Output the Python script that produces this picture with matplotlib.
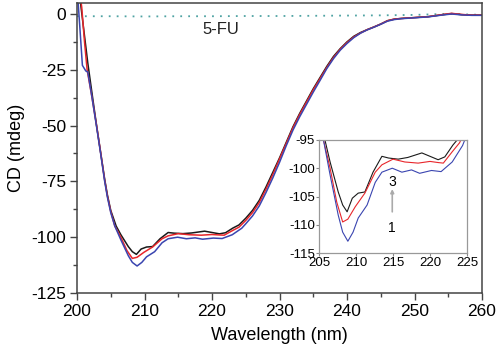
import numpy as np
import matplotlib
matplotlib.use('Agg')
import matplotlib.pyplot as plt
from matplotlib.ticker import MultipleLocator

plt.rcParams['font.family'] = ['Liberation Sans', 'DejaVu Sans']
plt.rcParams['axes.unicode_minus'] = False

# wavelength (nm) and CD (mdeg)
wl_black = [200.4, 200.8, 201.2, 201.6, 202.2, 202.9, 203.5, 204.1, 204.5, 205.0, 205.8, 206.5,
            207.6, 208.2, 208.8, 209.5, 210.3, 211.2, 212.3, 213.5, 214.4, 215.7, 217.0, 218.9,
            220.0, 221.1, 222.0, 223.1, 224.0, 225.0, 226.0, 227.0, 228.0, 229.0, 230.0, 231.0,
            232.0, 233.0, 234.0, 235.0, 236.0, 237.0, 238.0, 239.0, 240.0, 241.0, 242.0, 243.0,
            244.0, 245.0, 246.0, 247.0, 248.0, 250.0, 252.0, 254.0, 255.5, 257.0, 258.5, 260.0]
cd_black = [8.0, -2.0, -12.0, -22.0, -35.0, -50.0, -62.0, -74.0, -81.0, -88.0, -95.0, -98.9,
            -104.2, -106.5, -107.7, -105.3, -104.4, -104.2, -100.7, -97.9, -98.2, -98.4, -98.1, -97.3,
            -97.9, -98.5, -98.0, -95.9, -94.5, -91.5, -88.0, -83.5, -77.5, -71.0, -64.5, -57.5,
            -50.5, -44.5, -39.0, -33.5, -28.5, -23.5, -19.0, -15.5, -12.5, -10.0, -8.3, -7.0,
            -5.8, -4.5, -3.0, -2.3, -2.0, -1.6, -1.2, -0.4, 0.2, -0.3, -0.5, -0.5]

wl_red = [200.4, 200.7, 201.1, 201.5, 202.2, 202.9, 203.5, 204.1, 204.5, 205.0, 205.6, 206.5,
          207.4, 208.2, 208.9, 209.9, 211.2, 212.6, 213.5, 215.0, 216.6, 218.4, 220.0, 221.1,
          221.8, 223.0, 224.0, 225.0, 226.0, 227.0, 228.0, 229.0, 230.0, 231.0, 232.0, 233.0,
          234.0, 235.0, 236.0, 237.0, 238.0, 239.0, 240.0, 241.0, 242.0, 243.0, 244.0, 245.0,
          246.0, 247.0, 248.0, 250.0, 252.0, 254.0, 255.5, 257.0, 258.5, 260.0]
cd_red = [10.0, 3.0, -12.0, -25.0, -37.0, -50.0, -62.0, -74.5, -81.5, -88.5, -95.0, -100.0,
          -106.0, -109.5, -109.0, -106.8, -104.4, -100.7, -99.4, -98.4, -98.9, -99.1, -98.8, -99.0,
          -99.1, -97.1, -95.5, -92.5, -89.0, -84.5, -78.5, -72.0, -65.0, -58.0,
          -51.0, -45.0, -39.5, -34.0, -29.0, -24.0, -19.5, -15.8, -12.8, -10.3, -8.5, -7.0,
          -5.8, -4.5, -3.0, -2.3, -2.0, -1.6, -1.2, -0.3, 0.3, -0.2, -0.5, -0.5]

wl_blue = [200.1, 200.4, 200.8, 201.3, 201.6, 202.2, 202.9, 203.5, 204.1, 204.5, 205.0, 205.6,
           206.5, 207.6, 208.2, 208.9, 209.6, 210.3, 211.5, 212.6, 213.5, 214.9, 216.2, 217.5,
           218.6, 220.2, 221.5, 223.0, 224.4, 225.0, 226.0, 227.0, 228.0, 229.0, 230.0, 231.0,
           232.0, 233.0, 234.0, 235.0, 236.0, 237.0, 238.0, 239.0, 240.0, 241.0, 242.0, 243.0,
           244.0, 245.0, 246.0, 247.0, 248.0, 250.0, 252.0, 254.0, 255.5, 257.0, 258.5, 260.0]
cd_blue = [8.0, -5.0, -23.0, -25.5, -26.0, -37.0, -50.5, -62.5, -75.0, -82.0, -89.0, -95.0,
           -101.2, -108.3, -111.3, -112.9, -111.3, -108.8, -106.5, -102.5, -100.7, -100.0, -100.7, -100.3,
           -100.9, -100.4, -100.6, -98.9, -96.0, -94.0, -90.5, -86.0, -80.0, -73.5, -66.5, -59.0,
           -52.0, -46.0, -40.5, -35.0, -29.8, -24.5, -20.0, -16.2, -13.2, -10.6, -8.6, -7.1,
           -5.9, -4.6, -3.2, -2.5, -2.1, -1.7, -1.3, -0.5, 0.0, -0.4, -0.6, -0.6]

wl_fu = [200, 205, 210, 215, 220, 225, 230, 235, 240, 245, 250, 255, 260]
cd_fu = [-1.0, -1.0, -1.1, -1.0, -1.0, -0.9, -0.9, -0.8, -0.7, -0.6, -0.4, 0.1, -0.4]

x_ticks = [200, 210, 220, 230, 240, 250, 260]
y_ticks = [0, -25, -50, -75, -100, -125]
inset_x_ticks = [205, 210, 215, 220, 225]
inset_y_ticks = [-95, -100, -105, -110, -115]

BLACK = '#1a1a1a'
RED = '#e8262b'
BLUE = '#3a45b0'
FRAME = '#444444'

fig = plt.figure(figsize=(5.0, 3.56), dpi=100)
ax = fig.add_axes([0.154, 0.177, 0.81, 0.815])

ax.plot(wl_fu, cd_fu, color='#4fa3a3', linestyle=(0, (1, 3.4)), linewidth=1.3)
ax.plot(wl_black, cd_black, color=BLACK, linewidth=1.1)
ax.plot(wl_red, cd_red, color=RED, linewidth=1.1)
ax.plot(wl_blue, cd_blue, color=BLUE, linewidth=1.1)
ax.text(221.3, -6.8, '5-FU', fontsize=12, ha='center', va='center', color='#222222')

ax.set_xlim(200, 260)
ax.set_ylim(-125, 5)
ax.set_xticks(x_ticks)
ax.set_yticks(y_ticks)
ax.xaxis.set_minor_locator(MultipleLocator(5))
ax.yaxis.set_minor_locator(MultipleLocator(12.5))
ax.tick_params(which='major', direction='out', length=5, width=1, color=FRAME, labelsize=12.5, pad=3)
ax.tick_params(which='minor', direction='out', length=3, width=1, color=FRAME)
for s in ax.spines.values():
    s.set_color(FRAME)
    s.set_linewidth(1.1)
ax.set_xlabel('Wavelength (nm)', fontsize=13, labelpad=6)
ax.set_ylabel('CD (mdeg)', fontsize=13, labelpad=4)

# inset zoom on the minimum
ins = fig.add_axes([0.638, 0.289, 0.296, 0.318])
ins.plot(wl_black, cd_black, color=BLACK, linewidth=0.8)
ins.plot(wl_red, cd_red, color=RED, linewidth=0.8)
ins.plot(wl_blue, cd_blue, color=BLUE, linewidth=0.8)
ins.set_xlim(205, 225)
ins.set_ylim(-115, -95)
ins.set_xticks(inset_x_ticks)
ins.set_yticks(inset_y_ticks)
ins.tick_params(direction='out', length=2, width=0.8, color='#888888', labelsize=9.5, pad=1)
for s in ins.spines.values():
    s.set_color('#999999')
    s.set_linewidth(0.9)
ins.annotate('', xy=(214.9, -103.2), xytext=(214.9, -108.2),
             arrowprops=dict(arrowstyle='-|>', color='#aaaaaa', lw=1.2, mutation_scale=5))
ins.text(214.9, -102.4, '3', fontsize=10, ha='center', va='center')
ins.text(214.9, -110.5, '1', fontsize=10, ha='center', va='center')

fig.savefig('out.png', dpi=100)
